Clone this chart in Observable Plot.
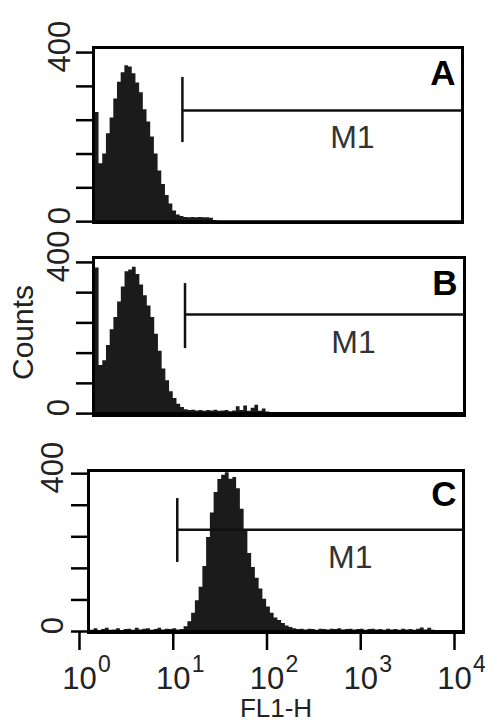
<!DOCTYPE html>
<html><head><meta charset="utf-8">
<script src="https://cdn.jsdelivr.net/npm/d3@7"></script>
<script src="https://cdn.jsdelivr.net/npm/@observablehq/plot@0.6"></script>
<style>
body{margin:0;background:#fff;}
#chart{position:relative;width:485px;height:722px;overflow:hidden;background:#fff;}
#chart svg{position:absolute;left:0;}
</style></head><body><div id="chart"></div>
<script>
// ---- data ----
const panelLetters = ["A", "B", "C"];
// log10(FL1-H) position of each histogram bin
const binExp = [0,0.04,0.08,0.12,0.16,0.2,0.24,0.28,0.32,0.36,0.4,0.44,0.48,0.52,0.56,0.6,0.64,0.68,0.72,0.76,0.8,0.84,0.88,0.92,0.96,1,1.04,1.08,1.12,1.16,1.2,1.24,1.28,1.32,1.36,1.4,1.44,1.48,1.52,1.56,1.6,1.64,1.68,1.72,1.76,1.8,1.84,1.88,1.92,1.96,2,2.04,2.08,2.12,2.16,2.2,2.24,2.28,2.32,2.36,2.4,2.44,2.48,2.52,2.56,2.6,2.64,2.68,2.72,2.76,2.8,2.84,2.88,2.92,2.96,3,3.04,3.08,3.12,3.16,3.2,3.24,3.28,3.32,3.36,3.4,3.44,3.48,3.52,3.56,3.6,3.64,3.68,3.72,3.76];
const countsA = [263,258,137,160,208,245,290,330,352,369,366,350,328,305,265,236,200,160,120,88,62,42,25,16,12,10,9,10,9,10,9,9,8,3,1,0];
const countsB = [390,385,127,140,180,222,254,295,335,375,380,387,368,340,312,285,254,210,165,118,87,58,40,25,16,10,8,9,7,8,6,8,7,9,6,7,8,5,7,18,8,20,6,14,22,6,12,4,2,0];
const countsC = [6,3,7,2,5,8,3,4,7,2,5,6,3,8,4,6,7,3,5,8,4,6,5,7,4,5,12,25,46,78,112,165,238,300,352,385,396,402,386,390,362,310,255,198,162,135,108,82,62,46,34,28,20,14,10,7,5,6,4,6,5,3,6,5,4,6,5,7,4,5,6,4,5,6,3,5,6,4,5,3,6,4,5,3,6,4,5,3,6,9,4,8,3,2,0];
const yTicks = [0, 80, 160, 240, 320, 400];
const yLabelTicks = [0, 400];
const xTicks = [1, 10, 100, 1000, 10000];
const xExponents = ["0", "1", "2", "3", "4"];
// M1 marker (gate) per panel
const m1Start = [9.2, 9.7, 8.85];
const m1End = [10000, 10000, 10000];
const m1Level = [263, 262, 258];
const m1Low = [187, 172, 175];
const m1High = [341, 344, 337];
const m1LabelX = [640, 635, 620];
const m1LabelY = [199, 188, 187];
const m1Label = ["M1", "M1", "M1"];
const xLabel = "FL1-H";
const yLabel = "Counts";

// ---- layout ----
const layouts = [
  {top: 0,   height: 235, mt: 47, mb: 13, ml: 93, mr: 23, yDomain: [-2, 412], letterDy: 13, labDx: -24},
  {top: 235, height: 190, mt: 22, mb: 10, ml: 93, mr: 21, yDomain: [-5, 413], letterDy: 13, labDx: -25},
  {top: 425, height: 297, mt: 45, mb: 90, ml: 88, mr: 22, yDomain: [-2.5, 408], letterDy: 11, labDx: -26}
];
const allCounts = [countsA, countsB, countsC];
const font = "'Liberation Sans', Arial, sans-serif";
const root = document.getElementById("chart");

allCounts.forEach((counts, i) => {
  const L = layouts[i];
  const hist = counts.map((c, j) => ({fl1: 10 ** binExp[j], count: c}));
  const gate = [{x: m1Start[i], x2: m1End[i], y: m1Level[i], y1: m1Low[i], y2: m1High[i]}];
  const marks = [
    Plot.areaY(hist, {x: "fl1", y: "count", curve: "step", fill: "#1b1b1b"}),
    Plot.ruleY([0], {stroke: "#000", strokeWidth: 3}),
    Plot.frame({stroke: "#000", strokeWidth: 3}),
    Plot.axisY(yTicks, {tickSize: 17, strokeWidth: 2.5, tickFormat: () => ""}),
    Plot.text(yLabelTicks, {
      y: d => d, text: d => String(d), frameAnchor: "left",
      rotate: -90, textAnchor: "middle", lineAnchor: "bottom",
      dx: L.labDx, dy: -6, fontSize: 31, fill: "#222"
    }),
    Plot.ruleX(gate, {x: "x", y1: "y1", y2: "y2", stroke: "#111", strokeWidth: 2.5}),
    Plot.ruleY(gate, {y: "y", x1: "x", x2: "x2", stroke: "#111", strokeWidth: 2.5}),
    Plot.text([m1Label[i]], {x: () => m1LabelX[i], y: () => m1LabelY[i], fontSize: 32, fill: "#333"}),
    Plot.text([panelLetters[i]], {frameAnchor: "top-right", textAnchor: "end", lineAnchor: "top",
      dx: -7, dy: L.letterDy, fontSize: 35, fontWeight: "bold", fill: "#000"})
  ];
  if (i === 1) {
    marks.push(Plot.text([yLabel], {frameAnchor: "left", rotate: -90, textAnchor: "middle",
      lineAnchor: "middle", dx: -70, dy: -4, fontSize: 30, fill: "#222"}));
  }
  if (i === 2) {
    marks.push(
      Plot.axisX(xTicks, {tickSize: 18, tickPadding: 16, strokeWidth: 2.5,
        tickFormat: () => "10", fontSize: 31, dx: -9, fill: "#222"}),
      Plot.axisX(xTicks, {tickSize: 0, tickPadding: 23,
        tickFormat: d => xExponents[xTicks.indexOf(d)], fontSize: 23, dx: 16, fill: "#222"}),
      Plot.text([xLabel], {frameAnchor: "bottom", textAnchor: "middle", lineAnchor: "bottom",
        dy: 84, fontSize: 26, fill: "#222"})
    );
  }
  const svg = Plot.plot({
    width: 485, height: L.height,
    marginTop: L.mt, marginBottom: L.mb, marginLeft: L.ml, marginRight: L.mr,
    style: {fontFamily: font, background: "transparent", overflow: "visible"},
    x: {type: "log", domain: [1, 10000], axis: i === 2 ? undefined : null},
    y: {domain: L.yDomain},
    marks
  });
  svg.style.top = L.top + "px";
  root.appendChild(svg);
});
</script></body></html>
